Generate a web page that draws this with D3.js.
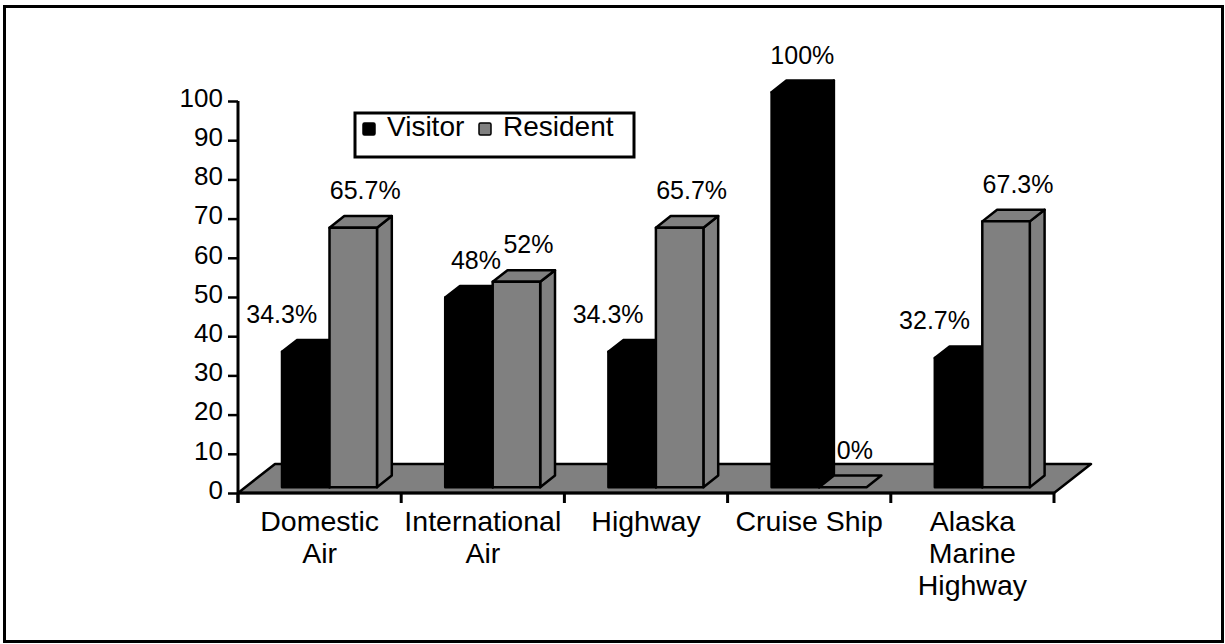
<!DOCTYPE html>
<html>
<head>
<meta charset="utf-8">
<script src="https://cdn.jsdelivr.net/npm/d3@7"></script>
<style>
  html, body { margin: 0; padding: 0; background: #fff; }
  svg { display: block; }
  text { font-family: "Liberation Sans", Arial, sans-serif; fill: #000; }
</style>
</head>
<body>
<svg id="chart" width="1225" height="644"></svg>
<script>
// ---- data ----
const categories = ["Domestic Air", "International Air", "Highway", "Cruise Ship", "Alaska Marine Highway"];
const categoryLines = [["Domestic", "Air"], ["International", "Air"], ["Highway"], ["Cruise Ship"], ["Alaska", "Marine", "Highway"]];
const seriesNames = ["Visitor", "Resident"];
const visitor = [34.3, 48, 34.3, 100, 32.7];
const resident = [65.7, 52, 65.7, 0, 67.3];
const yTicks = [0, 10, 20, 30, 40, 50, 60, 70, 80, 90, 100];
const seriesColors = ["#000000", "#808080"];

// ---- layout ----
const svg = d3.select("#chart");
const plotLeft = 238, plotRight = 1054, baseY = 493;
const floorDepth = { dx: 37, dy: -29 };
const zFront = 0.2, zBack = 0.6;

const y = d3.scaleLinear().domain([0, 100]).range([baseY, 101]);
const h = d3.scaleLinear().domain([0, 100]).range([0, 395]);
const x0 = d3.scaleBand().domain(categories).range([plotLeft, plotRight]).padding(0);
const x1 = d3.scaleBand().domain(seriesNames).range([36.6, 36.6 + 95]).padding(0);

// outer frame
svg.append("rect").attr("x", 4.5).attr("y", 6.5).attr("width", 1218).attr("height", 635)
  .attr("fill", "#fff").attr("stroke", "#000").attr("stroke-width", 3);

// floor
const fl = [
  [plotLeft, baseY], [plotRight, baseY],
  [plotRight + floorDepth.dx, baseY + floorDepth.dy],
  [plotLeft + floorDepth.dx, baseY + floorDepth.dy]
];
svg.append("polygon").attr("points", fl.map(p => p.join(",")).join(" "))
  .attr("fill", "#808080").attr("stroke", "#000").attr("stroke-width", 2.5).attr("stroke-linejoin", "round");

// y axis
const yAxis = svg.append("g").attr("transform", `translate(${plotLeft},0)`)
  .call(d3.axisLeft(y).tickValues(yTicks).tickSize(10).tickPadding(4).tickFormat(d3.format("d")));
yAxis.select(".domain").attr("d", `M0,${y(100)}V${baseY + 10}`).attr("stroke", "#000").attr("stroke-width", 3);
yAxis.selectAll(".tick line").attr("stroke", "#000").attr("stroke-width", 2.5);
yAxis.selectAll(".tick text").attr("font-size", 26).attr("font-family", "Liberation Sans, Arial, sans-serif")
  .attr("fill", "#000").attr("dy", "0.2em").attr("dx", "-1");

// x axis
const xAxis = svg.append("g").attr("transform", `translate(0,${baseY})`);
xAxis.append("line").attr("x1", plotLeft).attr("x2", plotRight).attr("y1", 0).attr("y2", 0)
  .attr("stroke", "#000").attr("stroke-width", 3);
const boundaries = categories.map(c => x0(c)).concat([x0(categories[categories.length - 1]) + x0.bandwidth()]);
xAxis.selectAll("line.tick").data(boundaries).join("line").attr("class", "tick")
  .attr("x1", d => d).attr("x2", d => d).attr("y1", 0).attr("y2", 10)
  .attr("stroke", "#000").attr("stroke-width", 3);
xAxis.selectAll("text.cat").data(categories).join("text").attr("class", "cat")
  .attr("text-anchor", "middle").attr("font-size", 28.5)
  .attr("x", d => x0(d) + x0.bandwidth() / 2)
  .each(function(d, i) {
    const t = d3.select(this);
    categoryLines[i].forEach((line, k) => {
      t.append("tspan").attr("x", x0(d) + x0.bandwidth() / 2).attr("y", 38 + k * 32).text(line);
    });
  });

// bars
const bdx = floorDepth.dx * (zBack - zFront), bdy = floorDepth.dy * (zBack - zFront);
const barBase = baseY + floorDepth.dy * zFront;
const frontShift = floorDepth.dx * zFront;
const series = [visitor, resident];

function drawBar(g, x, w, ht, color) {
  const top = barBase - ht;
  if (ht > 0) {
    g.append("polygon").attr("points", [
      [x + w, top], [x + w + bdx, top + bdy], [x + w + bdx, barBase + bdy], [x + w, barBase]
    ].map(p => p.join(",")).join(" "))
      .attr("fill", color).attr("stroke", "#000").attr("stroke-width", 2.5).attr("stroke-linejoin", "round");
  }
  g.append("polygon").attr("points", [
    [x, top], [x + bdx, top + bdy], [x + w + bdx, top + bdy], [x + w, top]
  ].map(p => p.join(",")).join(" "))
    .attr("fill", color).attr("stroke", "#000").attr("stroke-width", 2.5).attr("stroke-linejoin", "round");
  if (ht > 0) {
    g.append("rect").attr("x", x).attr("y", top).attr("width", w).attr("height", ht)
      .attr("fill", color).attr("stroke", "#000").attr("stroke-width", 2.5).attr("stroke-linejoin", "round");
  }
}

const barsG = svg.append("g");
const labelsG = svg.append("g");
categories.forEach((c, i) => {
  seriesNames.forEach((s, j) => {
    const v = series[j][i];
    const x = x0(c) + x1(s) + frontShift;
    const w = x1.bandwidth();
    drawBar(barsG, x, w, h(v), seriesColors[j]);
    const backTop = barBase - h(v) + bdy;
    let cx = x + w / 2;
    if (j === 0) {
      cx += (v < resident[i] - 10) ? -24 : 7;
    } else {
      cx += 12;
    }
    labelsG.append("text").attr("x", cx).attr("y", backTop - 17)
      .attr("text-anchor", "middle").attr("font-size", 25).text(`${v}%`);
  });
});

// legend
const lg = svg.append("g");
lg.append("rect").attr("x", 355).attr("y", 113).attr("width", 279).attr("height", 44)
  .attr("fill", "#fff").attr("stroke", "#000").attr("stroke-width", 3);
const legendX = [363, 479];
seriesNames.forEach((s, j) => {
  lg.append("rect").attr("x", legendX[j]).attr("y", 123).attr("width", 12).attr("height", 12)
    .attr("rx", 1.5).attr("fill", seriesColors[j]).attr("stroke", "#000").attr("stroke-width", 1.5);
  lg.append("text").attr("x", legendX[j] + 24).attr("y", 136).attr("font-size", 28).text(s);
});
</script>
</body>
</html>
